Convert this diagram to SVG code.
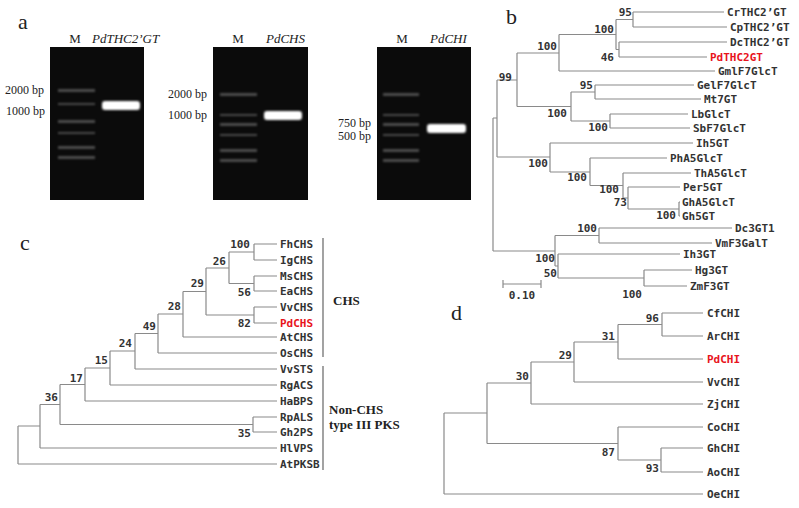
<svg xmlns="http://www.w3.org/2000/svg" width="799" height="508" viewBox="0 0 799 508">
<defs>
<style>
.t{font-family:"DejaVu Sans Mono","Liberation Mono",monospace;font-size:11px;font-weight:bold;fill:#333}
.r{fill:#e8141c}
.n{font-family:"DejaVu Sans Mono","Liberation Mono",monospace;font-size:11px;font-weight:bold;fill:#333;text-anchor:end}
.s{font-family:"Liberation Serif",serif;fill:#222}
.tr{fill:none;stroke:#8a8a8a;stroke-width:1.2}
.gel{fill:#0b0b0b}
.lad{fill:#777;opacity:.6}
.band{fill:#fff}
</style>
<filter id="glow" x="-20%" y="-100%" width="140%" height="300%"><feGaussianBlur stdDeviation="1.2"/></filter>
</defs>
<rect width="799" height="508" fill="#fff"/>
<g id="panel-a">
<text class="s" x="18" y="29" font-size="22">a</text>
<rect class="gel" x="50" y="47" width="94" height="153"/>
<rect class="gel" x="213" y="47" width="95" height="153"/>
<rect class="gel" x="377" y="47" width="94" height="153"/>
<g class="lad" filter="url(#glow)">
<rect x="58" y="89" width="37" height="3"/><rect x="58" y="103" width="37" height="2"/><rect x="58" y="120" width="37" height="3"/><rect x="58" y="132" width="37" height="2"/><rect x="58" y="146" width="37" height="3"/><rect x="58" y="156" width="37" height="3"/>
<rect x="220" y="93" width="37" height="3"/><rect x="220" y="114" width="37" height="2"/><rect x="220" y="123" width="37" height="3"/><rect x="220" y="134" width="37" height="2"/><rect x="220" y="149" width="37" height="3"/><rect x="220" y="159" width="37" height="3"/>
<rect x="383" y="93" width="36" height="3"/><rect x="383" y="114" width="36" height="2"/><rect x="383" y="123" width="36" height="3"/><rect x="383" y="134" width="36" height="2"/><rect x="383" y="149" width="36" height="3"/><rect x="383" y="159" width="36" height="3"/>
</g>
<g class="band" filter="url(#glow)">
<rect x="102" y="101" width="38" height="9" rx="3"/>
<rect x="264" y="111" width="38" height="9" rx="3"/>
<rect x="427" y="124" width="39" height="9" rx="3"/>
</g>
<text class="s" x="75" y="43" font-size="13" text-anchor="middle">M</text>
<text class="s" x="92" y="43" font-size="13" font-style="italic">PdTHC2’GT</text>
<text class="s" x="238" y="43" font-size="13" text-anchor="middle">M</text>
<text class="s" x="266" y="43" font-size="13" font-style="italic">PdCHS</text>
<text class="s" x="402" y="43" font-size="13" text-anchor="middle">M</text>
<text class="s" x="430" y="43" font-size="13" font-style="italic">PdCHI</text>
<g font-size="12">
<text class="s" x="5" y="94">2000 bp</text>
<text class="s" x="6" y="115">1000 bp</text>
<text class="s" x="168" y="98">2000 bp</text>
<text class="s" x="168" y="119">1000 bp</text>
<text class="s" x="338" y="127">750 bp</text>
<text class="s" x="338" y="140">500 bp</text>
</g>
</g>
<g id="connectors">
<path class="tr" d="M633 12H724 M633 27H727 M619 42H727 M619 57H707 M559 71H715 M595 85H694 M595 99H701 M610 114H688 M610 128H690 M550 143H693 M590 158H667 M623 173H691 M628 187H680 M679 202H680 M679 216H680 M599 228H732 M599 243H712 M558 254H680 M644 270H692 M644 286H687 M633 12V27 M616 19.5H633 M619 42V57 M616 49.5H619 M616 19.5V49.5 M559 34.5H616 M559 34.5V71 M517 53H559 M595 85V99 M571 92H595 M610 114V128 M571 121H610 M571 92V121 M517 106.5H571 M517 53V106.5 M497 80H517 M679 202V216 M628 209H679 M628 187V209 M623 198H628 M623 173V198 M590 185.5H623 M590 158V185.5 M550 172H590 M550 143V172 M497 157H550 M497 80V157 M493 118H497 M599 228V243 M555 235.5H599 M644 270V286 M558 278H644 M558 254V278 M555 266H558 M555 235.5V266 M493 251H555 M493 118V251"/>
<path class="tr" d="M503 284H541 M503 280V288 M541 280V288"/>
<path class="tr" d="M254 244H277 M254 260H277 M254 276H277 M254 291H277 M254 307H277 M254 323H277 M183 337H277 M158 353H277 M135 369H277 M110 385H277 M85 401H277 M253 417H277 M253 432H277 M40 448H277 M18 464H277 M254 244V260 M229 252H254 M254 276V291 M229 283.5H254 M229 252V283.5 M206 268H229 M254 307V323 M206 315H254 M206 268V315 M183 291.5H206 M183 291.5V337 M158 314H183 M158 314V353 M135 333.5H158 M135 333.5V369 M110 351H135 M110 351V385 M85 368H110 M85 368V401 M60 384.5H85 M253 417V432 M60 424.5H253 M60 384.5V424.5 M40 404.5H60 M40 404.5V448 M18 426H40 M18 426V464"/>
<path fill="none" stroke="#666" stroke-width="1.2" d="M323 238V357 M323 366V470"/>
<path class="tr" d="M662 313H703 M662 336H703 M618 359H703 M574 382H703 M531 404H703 M618 427H703 M661 448H703 M661 472H703 M444 494H703 M662 313V336 M618 324.5H662 M618 324.5V359 M574 342H618 M574 342V382 M531 362H574 M531 362V404 M487 383H531 M661 448V472 M618 460H661 M618 427V460 M487 443.5H618 M487 383V443.5 M444 413H487 M444 413V494"/>
</g>
<g id="panel-b">
<text class="s" x="506" y="24" font-size="22">b</text>
<text class="t" x="727" y="16">CrTHC2’GT</text>
<text class="t" x="730" y="31">CpTHC2’GT</text>
<text class="t" x="730" y="46">DcTHC2’GT</text>
<text class="t r" x="710" y="61">PdTHC2GT</text>
<text class="t" x="718" y="75">GmlF7GlcT</text>
<text class="t" x="697" y="89">GelF7GlcT</text>
<text class="t" x="704" y="103">Mt7GT</text>
<text class="t" x="691" y="118">LbGlcT</text>
<text class="t" x="693" y="132">SbF7GlcT</text>
<text class="t" x="696" y="147">Ih5GT</text>
<text class="t" x="670" y="162">PhA5GlcT</text>
<text class="t" x="694" y="177">ThA5GlcT</text>
<text class="t" x="683" y="191">Per5GT</text>
<text class="t" x="682" y="206">GhA5GlcT</text>
<text class="t" x="682" y="220">Gh5GT</text>
<text class="t" x="735" y="232">Dc3GT1</text>
<text class="t" x="715" y="247">VmF3GalT</text>
<text class="t" x="683" y="258">Ih3GT</text>
<text class="t" x="695" y="274">Hg3GT</text>
<text class="t" x="690" y="290">ZmF3GT</text>
<text class="n" x="632" y="16">95</text>
<text class="n" x="614" y="33">100</text>
<text class="n" x="614" y="61">46</text>
<text class="n" x="557" y="50">100</text>
<text class="n" x="512" y="81">99</text>
<text class="n" x="593" y="89">95</text>
<text class="n" x="567" y="117">100</text>
<text class="n" x="608" y="131">100</text>
<text class="n" x="548" y="167">100</text>
<text class="n" x="587" y="181">100</text>
<text class="n" x="619" y="193">100</text>
<text class="n" x="627" y="206">73</text>
<text class="n" x="676" y="219">100</text>
<text class="n" x="597" y="232">100</text>
<text class="n" x="555" y="262">100</text>
<text class="n" x="557" y="277">50</text>
<text class="n" x="642" y="298">100</text>
<text class="t" x="522" y="299" text-anchor="middle">0.10</text>
</g>
<g id="panel-c">
<text class="s" x="20" y="250" font-size="22">c</text>
<text class="t" x="280" y="248">FhCHS</text>
<text class="t" x="280" y="264">IgCHS</text>
<text class="t" x="280" y="280">MsCHS</text>
<text class="t" x="280" y="295">EaCHS</text>
<text class="t" x="280" y="311">VvCHS</text>
<text class="t r" x="280" y="327">PdCHS</text>
<text class="t" x="280" y="341">AtCHS</text>
<text class="t" x="280" y="357">OsCHS</text>
<text class="t" x="280" y="373">VvSTS</text>
<text class="t" x="280" y="389">RgACS</text>
<text class="t" x="280" y="405">HaBPS</text>
<text class="t" x="280" y="421">RpALS</text>
<text class="t" x="280" y="436">Gh2PS</text>
<text class="t" x="280" y="452">HlVPS</text>
<text class="t" x="280" y="468">AtPKSB</text>
<text class="n" x="250" y="248">100</text>
<text class="n" x="226" y="265">26</text>
<text class="n" x="251" y="296">56</text>
<text class="n" x="204" y="287">29</text>
<text class="n" x="251" y="327">82</text>
<text class="n" x="181" y="310">28</text>
<text class="n" x="156" y="330">49</text>
<text class="n" x="132" y="347">24</text>
<text class="n" x="108" y="364">15</text>
<text class="n" x="83" y="382">17</text>
<text class="n" x="58" y="401">36</text>
<text class="n" x="251" y="437">35</text>
<text class="s" x="333" y="305" font-size="13" font-weight="bold" fill="#444">CHS</text>
<text class="s" x="329" y="414" font-size="13" font-weight="bold" fill="#444">Non-CHS</text>
<text class="s" x="329" y="429" font-size="13" font-weight="bold" fill="#444">type III PKS</text>
</g>
<g id="panel-d">
<text class="s" x="451" y="320" font-size="22">d</text>
<text class="t" x="707" y="317">CfCHI</text>
<text class="t" x="707" y="340">ArCHI</text>
<text class="t r" x="707" y="363">PdCHI</text>
<text class="t" x="707" y="386">VvCHI</text>
<text class="t" x="707" y="408">ZjCHI</text>
<text class="t" x="707" y="431">CoCHI</text>
<text class="t" x="707" y="452">GhCHI</text>
<text class="t" x="707" y="476">AoCHI</text>
<text class="t" x="707" y="498">OeCHI</text>
<text class="n" x="659" y="322">96</text>
<text class="n" x="615" y="340">31</text>
<text class="n" x="572" y="359">29</text>
<text class="n" x="529" y="380">30</text>
<text class="n" x="615" y="456">87</text>
<text class="n" x="659" y="472">93</text>
</g>
</svg>
